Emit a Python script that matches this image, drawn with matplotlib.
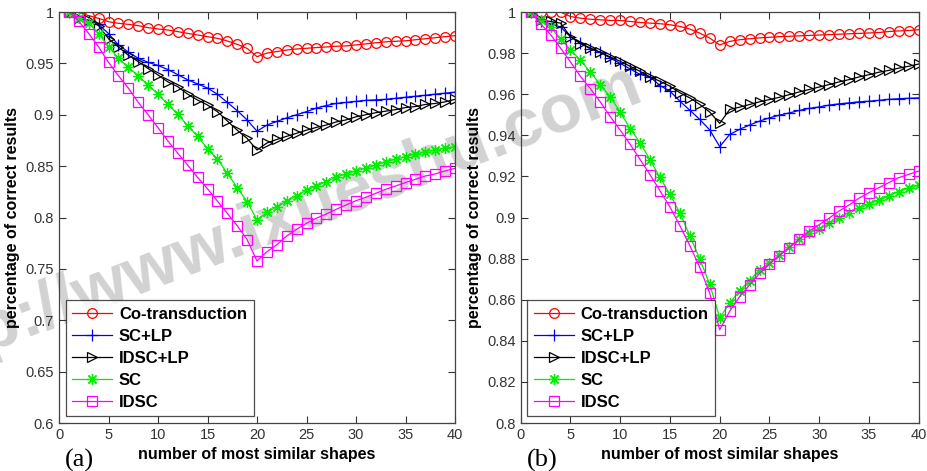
import matplotlib
matplotlib.use("Agg")
import matplotlib.pyplot as plt
import numpy as np

# ---------------------------------------------------------------------------
# Data (x = 1..40)
# ---------------------------------------------------------------------------
x = list(range(1, 41))
series_names = ["Co-transduction", "SC+LP", "IDSC+LP", "SC", "IDSC"]

# panel (a)
a_cotrans = [1.000, 0.9997, 0.9964, 0.9938, 0.9906, 0.989, 0.988, 0.9867, 0.9848, 0.9835,
             0.9825, 0.9809, 0.9792, 0.9776, 0.976, 0.9744, 0.9718, 0.9685, 0.9646, 0.9565,
             0.960, 0.9615, 0.963, 0.964, 0.9647, 0.9654, 0.966, 0.9667, 0.967, 0.968,
             0.969, 0.970, 0.971, 0.9715, 0.972, 0.973, 0.974, 0.975, 0.976, 0.977]
a_sclp = [1.000, 0.995, 0.991, 0.988, 0.979, 0.968, 0.961, 0.955, 0.951, 0.948,
          0.944, 0.939, 0.934, 0.930, 0.926, 0.920, 0.912, 0.904, 0.895, 0.884,
          0.890, 0.8935, 0.897, 0.900, 0.903, 0.9065, 0.909, 0.911, 0.912, 0.913,
          0.914, 0.9145, 0.915, 0.916, 0.917, 0.918, 0.919, 0.920, 0.921, 0.922]
a_idsclp = [1.000, 0.9945, 0.992, 0.9867, 0.974, 0.966, 0.958, 0.9517, 0.945, 0.9387,
            0.932, 0.9273, 0.920, 0.9143, 0.9095, 0.903, 0.894, 0.885, 0.877, 0.8657,
            0.8725, 0.876, 0.879, 0.882, 0.885, 0.8877, 0.890, 0.893, 0.895, 0.898,
            0.900, 0.902, 0.9035, 0.905, 0.907, 0.908, 0.910, 0.911, 0.9125, 0.915]
a_sc = [1.000, 0.994, 0.989, 0.979, 0.9663, 0.955, 0.946, 0.938, 0.929, 0.920,
        0.910, 0.9004, 0.8894, 0.879, 0.867, 0.857, 0.843, 0.829, 0.8154, 0.7976,
        0.805, 0.8106, 0.816, 0.821, 0.8268, 0.8307, 0.8349, 0.8392, 0.8424, 0.8456,
        0.8479, 0.8511, 0.8544, 0.8567, 0.8593, 0.8618, 0.8641, 0.8657, 0.8674, 0.869]
a_idsc = [1.000, 0.991, 0.979, 0.966, 0.951, 0.938, 0.926, 0.912, 0.900, 0.8874,
          0.8745, 0.8625, 0.851, 0.839, 0.828, 0.816, 0.804, 0.792, 0.7785, 0.7577,
          0.7667, 0.7735, 0.782, 0.7886, 0.7944, 0.7993, 0.8034, 0.808, 0.8122, 0.8164,
          0.8197, 0.8236, 0.8275, 0.8307, 0.834, 0.8372, 0.8404, 0.8424, 0.8453, 0.8479]

# panel (b)
b_cotrans = [1.000, 1.000, 1.000, 1.000, 0.9978, 0.997, 0.9965, 0.9962, 0.9959, 0.9959,
             0.9954, 0.9949, 0.9946, 0.9943, 0.9938, 0.993, 0.9917, 0.9897, 0.9873, 0.984,
             0.9857, 0.9865, 0.987, 0.9874, 0.9877, 0.988, 0.9882, 0.9884, 0.9886, 0.9888,
             0.989, 0.9892, 0.9894, 0.9896, 0.9898, 0.990, 0.9905, 0.9908, 0.991, 0.9914]
b_sclp = [1.000, 0.9954, 0.9943, 0.9927, 0.988, 0.985, 0.982, 0.9804, 0.9776, 0.975,
          0.9723, 0.9696, 0.9684, 0.9642, 0.9615, 0.9566, 0.9522, 0.9477, 0.9426, 0.9345,
          0.9404, 0.9429, 0.945, 0.9469, 0.9485, 0.9498, 0.9509, 0.9521, 0.9531, 0.9538,
          0.9547, 0.9553, 0.9558, 0.9563, 0.9566, 0.957, 0.9575, 0.9578, 0.958, 0.9582]
b_idsclp = [1.000, 0.996, 0.9954, 0.9946, 0.988, 0.9846, 0.9825, 0.9804, 0.9781, 0.976,
            0.9736, 0.9711, 0.9684, 0.9663, 0.9639, 0.9607, 0.9582, 0.955, 0.9513, 0.9458,
            0.9526, 0.9537, 0.955, 0.9563, 0.9574, 0.9585, 0.9598, 0.9611, 0.9623, 0.9635,
            0.9647, 0.966, 0.9671, 0.9684, 0.9695, 0.9707, 0.9716, 0.9727, 0.9736, 0.9747]
b_sc = [1.000, 0.9962, 0.9927, 0.9868, 0.9817, 0.9765, 0.9707, 0.9647, 0.9587, 0.9513,
        0.9432, 0.9364, 0.928, 0.9195, 0.9112, 0.9022, 0.8911, 0.8798, 0.8674, 0.8512,
        0.8583, 0.8644, 0.8693, 0.8745, 0.878, 0.8818, 0.8857, 0.8893, 0.8927, 0.8944,
        0.8971, 0.8997, 0.9024, 0.9045, 0.9065, 0.9084, 0.9105, 0.9126, 0.9142, 0.9158]
b_idsc = [1.000, 0.9943, 0.989, 0.9825, 0.9757, 0.9687, 0.9627, 0.9562, 0.9491, 0.9425,
          0.9356, 0.9282, 0.9208, 0.913, 0.9051, 0.896, 0.8863, 0.8757, 0.8631, 0.8454,
          0.8544, 0.8615, 0.8672, 0.8728, 0.8774, 0.8814, 0.8854, 0.8895, 0.8935, 0.8965,
          0.8997, 0.9032, 0.9061, 0.9094, 0.9121, 0.9145, 0.917, 0.9194, 0.921, 0.9226]

a_yticks = [0.6, 0.65, 0.7, 0.75, 0.8, 0.85, 0.9, 0.95, 1.0]
a_yticklabels = ["0.6", "0.65", "0.7", "0.75", "0.8", "0.85", "0.9", "0.95", "1"]
b_yticks = [0.8, 0.82, 0.84, 0.86, 0.88, 0.9, 0.92, 0.94, 0.96, 0.98, 1.0]
b_yticklabels = ["0.8", "0.82", "0.84", "0.86", "0.88", "0.9", "0.92", "0.94", "0.96", "0.98", "1"]
xticks = [0, 5, 10, 15, 20, 25, 30, 35, 40]

# ---------------------------------------------------------------------------
# Styles (MATLAB look) -- '*' in MATLAB is a line asterisk, not a filled star
# ---------------------------------------------------------------------------
styles = [
    dict(color="#ff0000", marker="o", mfc="none", ms=7),
    dict(color="#0000ff", marker="+", mfc="none", ms=8),
    dict(color="#000000", marker=">", mfc="none", ms=7),
    dict(color="#00ee00", marker=(8, 2, 0), mfc="none", ms=8),
    dict(color="#ff00ff", marker="s", mfc="none", ms=7),
]

plt.rcParams["font.family"] = ["Liberation Sans", "DejaVu Sans"]

fig = plt.figure(figsize=(9.28, 4.71), dpi=100)
fig.patch.set_facecolor("white")

# watermark behind the plots (clipped at the left edge, as in the reference)
fig.text(0.695, 0.79, "http://www.ixueshu.com", fontsize=50, fontweight="bold",
         color="#d2d2d2", rotation=21, rotation_mode="anchor",
         ha="right", va="baseline", zorder=-1)

ax_a = fig.add_axes([0.0636, 0.1019, 0.4267, 0.8726])
ax_b = fig.add_axes([0.5611, 0.1019, 0.4289, 0.8726])


def draw_panel(ax, data, ylim, yticks, yticklabels, tag):
    ax.set_facecolor("none")
    for vals, name, st in zip(data, series_names, styles):
        ax.plot(x, vals, color=st["color"], marker=st["marker"], mfc=st["mfc"],
                mec=st["color"], ms=st["ms"], mew=0.9, lw=0.9, label=name)
    ax.set_xlim(0, 40)
    ax.set_ylim(*ylim)
    ax.set_xticks(xticks)
    ax.set_yticks(yticks)
    ax.set_yticklabels(yticklabels)
    ax.tick_params(direction="in", top=True, right=True, length=5, width=0.8,
                   labelsize=10.5, labelcolor="#333333", color="#333333")
    for sp in ax.spines.values():
        sp.set_color("#444444")
        sp.set_linewidth(0.9)
    ax.set_xlabel("number of most similar shapes", fontsize=11.5,
                  fontweight="bold", labelpad=4)
    ax.set_ylabel("percentage of correct results", fontsize=11.5,
                  fontweight="bold", labelpad=4)
    leg = ax.legend(loc="lower left", fontsize=12, frameon=True, fancybox=False,
                    borderpad=0.4, labelspacing=0.42, handlelength=2.4,
                    handletextpad=0.4, borderaxespad=0.4)
    leg.get_frame().set_edgecolor("#222222")
    leg.get_frame().set_linewidth(0.9)
    for t in leg.get_texts():
        t.set_fontweight("bold")
    ax.text(0.015, -0.09, tag, transform=ax.transAxes, fontsize=19,
            family="Liberation Serif", ha="left", va="center")


draw_panel(ax_a, [a_cotrans, a_sclp, a_idsclp, a_sc, a_idsc],
           (0.6, 1.0), a_yticks, a_yticklabels, "(a)")
draw_panel(ax_b, [b_cotrans, b_sclp, b_idsclp, b_sc, b_idsc],
           (0.8, 1.0), b_yticks, b_yticklabels, "(b)")

fig.savefig("out.png", dpi=100)
